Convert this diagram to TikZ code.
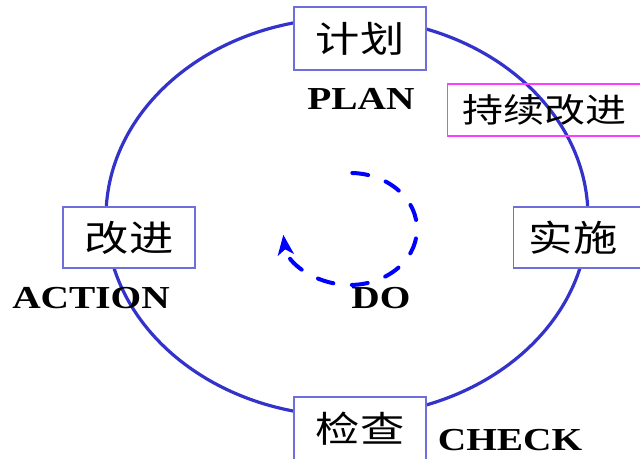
\documentclass[tikz,border=0pt]{standalone}
\usepackage{fontspec}
\usepackage{graphicx}
\setmainfont{Liberation Serif}
\newfontfamily\cjk{Noto Sans CJK SC}
\usepackage{tikz}
\usetikzlibrary{arrows.meta}
\definecolor{ringblue}{RGB}{51,51,204}
\definecolor{boxblue}{RGB}{110,110,220}
\definecolor{dashblue}{RGB}{0,0,255}
\definecolor{notepink}{RGB}{255,60,255}
\newcommand{\wide}[1]{\scalebox{1.23}[1]{#1}}
\tikzstyle{phase} = [rectangle, minimum width=99pt, minimum height=46pt, inner sep=0pt, text centered, draw=boxblue, line width=1.1pt, fill=white, font=\cjk\fontsize{27}{30}\selectfont]
\tikzstyle{phaseopen} = [phase, anchor=west, minimum width=0pt, text width=88pt, inner xsep=11.25pt, align=left]
\tikzstyle{note} = [rectangle, minimum height=39pt, anchor=west, text width=137pt, inner xsep=11.25pt, inner ysep=0pt, align=left, draw=notepink, line width=1.1pt, font=\cjk\fontsize{25}{28}\selectfont]
\tikzstyle{tag} = [inner sep=0pt, font=\bfseries\fontsize{24}{26}\selectfont]
\tikzstyle{ring} = [draw=ringblue, line width=2.4pt]
\tikzstyle{arrow} = [draw=dashblue, line width=3pt, line cap=round, dash pattern=on 12pt off 14pt, -{Stealth[length=15pt, width=12pt, inset=4pt]}]

\begin{document}
\begin{tikzpicture}[x=0.75pt, y=-0.75pt]
    \clip (0,0) rectangle (640,459);
    % the cycle
    \draw [ring] (347,217) ellipse [x radius=241, y radius=199];

    \node (plan) [phase, minimum height=47pt] at (360,38.5) {\wide{计划}};
    \node (do) [phaseopen] at (513,237.5) {\wide{实施}};
    \node (check) [phase, minimum height=47pt] at (360,428.5) {\wide{检查}};
    \node (act) [phase] at (129,237.5) {\wide{改进}};
    \node (keep) [note] at (447,110) {\wide{持续改进}};

    \node (plantag) [tag] at (361,99) {\wide{PLAN}};
    \node (dotag) [tag] at (381,298) {\wide{DO}};
    \node (checktag) [tag] at (510,440) {\wide{CHECK}};
    \node (acttag) [tag] at (91,298) {\wide{ACTION}};

    % inner turn
    \coordinate (turn) at (352.3,173);
    \draw [arrow] (turn) arc [start angle=-88, end angle=174, x radius=67, y radius=56];
\end{tikzpicture}
\end{document}
